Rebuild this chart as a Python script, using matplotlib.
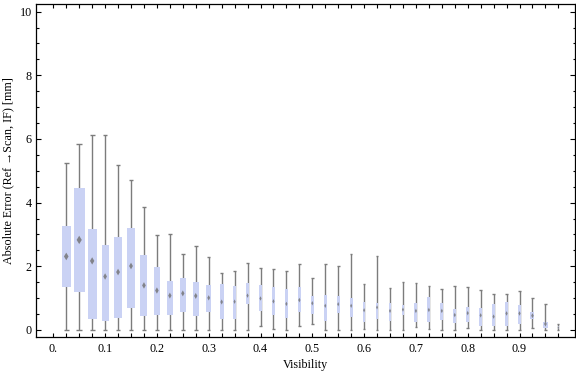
import numpy as np
import matplotlib
matplotlib.use("Agg")
import matplotlib.pyplot as plt
from matplotlib.patches import Rectangle, Polygon
from matplotlib.ticker import MultipleLocator

# Visibility bins (box centres) and the box-whisker statistics per bin
visibility = [0.025 * (k + 1) for k in range(39)]

whisk_lo = [0, 0, 0, 0, 0, 0, 0, 0, 0, 0, 0, 0, 0,
            0, 0, 0.11, 0.03, 0,
            0.14, 0.20, 0, 0, 0, 0.03, 0,
            0, 0, 0.08, 0.04, 0, 0, 0.05,
            0, 0, 0, 0, 0.05, 0, 0]
q1 = [1.36, 1.20, 0.35, 0.28, 0.39, 0.70, 0.45, 0.47, 0.47, 0.57, 0.45, 0.55, 0.35,
      0.35, 0.82, 0.60, 0.48, 0.39,
      0.56, 0.50, 0.29, 0.54, 0.42, 0.26, 0.33,
      0.29, 0.46, 0.26, 0.24, 0.30, 0.23, 0.26,
      0.13, 0.13, 0.14, 0.20, 0.33, 0.07, 0.03]
mid = [2.31, 2.83, 2.17, 1.68, 1.82, 2.01, 1.40, 1.24, 1.08, 1.15, 1.07, 1.01, 0.88,
       0.89, 1.08, 0.99, 0.90, 0.82,
       0.94, 0.84, 0.76, 0.81, 0.76, 0.62, 0.71,
       0.60, 0.64, 0.60, 0.63, 0.60, 0.47, 0.53,
       0.46, 0.42, 0.52, 0.52, 0.45, 0.19, 0.07]
q3 = [3.28, 4.47, 3.18, 2.68, 2.91, 3.21, 2.36, 1.99, 1.54, 1.64, 1.51, 1.42, 1.45,
      1.38, 1.48, 1.42, 1.35, 1.29,
      1.34, 1.07, 1.09, 1.07, 1.00, 0.87, 0.85,
      0.84, 0.79, 0.85, 1.03, 0.85, 0.66, 0.72,
      0.69, 0.81, 0.89, 0.79, 0.58, 0.26, 0.12]
whisk_hi = [5.25, 5.85, 6.13, 6.13, 5.17, 4.71, 3.86, 2.98, 3.01, 2.38, 2.64, 2.30, 1.78,
            1.85, 2.10, 1.94, 1.91, 1.85,
            2.07, 1.63, 2.07, 2.02, 2.38, 1.45, 2.33,
            1.33, 1.50, 1.47, 1.38, 1.28, 1.39, 1.34,
            1.26, 1.12, 1.12, 1.22, 1.00, 0.82, 0.19]
# relative box width (varies per bin in the original chart), in pixels
box_px = [9.3, 10.7, 8.7, 7.0, 7.3, 7.3, 7.0, 6.7, 6.0, 6.0, 6.0, 4.7, 4.3,
          3.0, 3.0, 3.0, 3.0, 3.0,
          3.3, 3.0, 2.7, 2.7, 2.7, 2.7, 2.5,
          2.7, 2.7, 3.0, 3.0, 3.0, 3.0, 3.0,
          3.0, 3.0, 3.3, 3.3, 4.0, 4.3, 1.3]

xtick_pos = [0.025 * k for k in range(40)]
xtick_lab = ["0." if k == 0 else (f"{0.025 * k:.1f}" if k % 4 == 0 else "") for k in range(40)]

plt.rcParams['font.family'] = ['Liberation Serif', 'DejaVu Serif']
plt.rcParams['font.size'] = 8.7

fig = plt.figure(figsize=(5.76, 3.77), dpi=100)
ax = fig.add_axes([36 / 576, 1 - 337 / 377, 539 / 576, 333 / 377])
x0, x1 = -0.0334, 1.0071
y0, y1 = -0.22, 10.24
ax.set_xlim(x0, x1)
ax.set_ylim(y0, y1)

# data units per pixel
px_x = (x1 - x0) / 539
px_y = (y1 - y0) / 333

box_col = "#CAD2F4"
wcol = "#7C7C7C"
for i, x in enumerate(visibility):
    bw = box_px[i] * px_x
    cw = (0.4 * box_px[i] + 1.5) * px_x
    ax.vlines(x, whisk_lo[i], whisk_hi[i], color=wcol, lw=1.0, zorder=1)
    ax.hlines([whisk_lo[i], whisk_hi[i]], x - cw / 2, x + cw / 2, color=wcol, lw=1.0, zorder=1)
    ax.add_patch(Rectangle((x - bw / 2, q1[i]), bw, q3[i] - q1[i],
                           fc=box_col, ec="none", zorder=2))
    dw = (0.4 * box_px[i] + 0.9) * px_x / 2
    dh = (0.5 * box_px[i] + 3.0) * px_y / 2
    ax.add_patch(Polygon([(x - dw, mid[i]), (x, mid[i] + dh), (x + dw, mid[i]), (x, mid[i] - dh)],
                         closed=True, fc="#707070", ec="none", alpha=0.8, zorder=3))

ax.set_xticks(xtick_pos)
ax.set_xticklabels(xtick_lab)
ax.yaxis.set_major_locator(MultipleLocator(2))
ax.yaxis.set_minor_locator(MultipleLocator(0.5))
ax.tick_params(axis="x", direction="in", length=2.9, width=0.8, top=True, pad=4)
ax.tick_params(axis="y", which="major", direction="in", length=3.6, width=0.8, right=True, pad=3)
ax.tick_params(axis="y", which="minor", direction="in", length=1.8, width=0.8, right=True)
for s in ax.spines.values():
    s.set_linewidth(0.9)

ax.set_xlabel("Visibility", labelpad=3)
ax.set_ylabel("Absolute Error (Ref \u2192Scan, IF) [mm]", labelpad=4)

fig.savefig("out.png", dpi=100)
